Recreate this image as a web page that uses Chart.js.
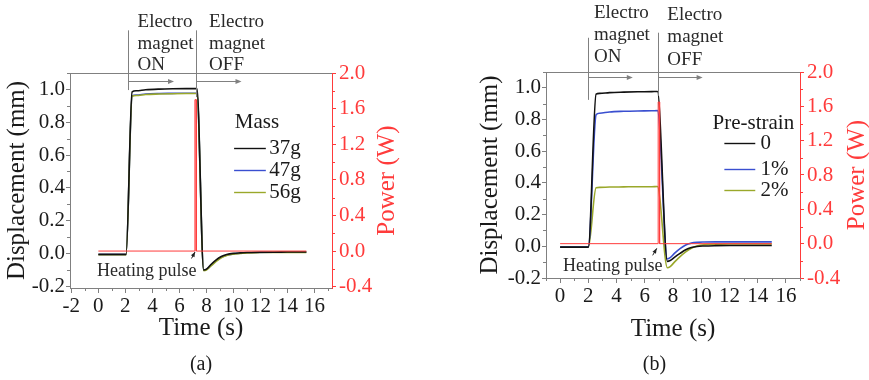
<!DOCTYPE html>
<html>
<head>
<meta charset="utf-8">
<script src="https://cdn.jsdelivr.net/npm/chart.js@4.4.0/dist/chart.umd.min.js"></script>
<style>
    body { margin: 0; background: #fff; }
    .panel { position: absolute; top: 0; height: 380px; }
</style>
</head>
<body>
<div class="panel" style="left:0;width:440px"><canvas id="chartA" width="440" height="380"></canvas></div>
<div class="panel" style="left:440px;width:429px"><canvas id="chartB" width="429" height="380"></canvas></div>
<script>
// (a) displacement vs time for three masses
var timeA = [0, 1, 2.05, 2.5, 2.8, 3.5, 4.5, 5.5, 6.5, 7.3, 7.8, 8.0, 8.3, 8.7, 9.1, 9.5, 10, 10.5, 11, 12, 13, 14, 15.4];
var mass37 = [-0.005, -0.005, -0.005, 0.985, 0.992, 0.998, 1.002, 1.004, 1.005, 1.005, -0.1, -0.095, -0.07, -0.04, -0.018, -0.006, 0.001, 0.004, 0.006, 0.008, 0.008, 0.009, 0.009];
var mass47 = [-0.006, -0.006, -0.006, 0.96, 0.966, 0.972, 0.975, 0.976, 0.977, 0.977, -0.102, -0.098, -0.076, -0.046, -0.023, -0.01, -0.002, 0.002, 0.005, 0.007, 0.008, 0.008, 0.008];
var mass56 = [-0.007, -0.007, -0.007, 0.958, 0.963, 0.969, 0.972, 0.974, 0.975, 0.975, -0.104, -0.1, -0.079, -0.05, -0.026, -0.012, -0.004, 0.0, 0.004, 0.006, 0.007, 0.007, 0.007];
var massLabels = ['37g', '47g', '56g'];

// heating pulse power for (a)
var powerTimeA = [0, 7.15, 7.15, 7.25, 7.25, 15.4];
var powerA = [0, 0, 1.7, 1.7, 0, 0];

// (b) displacement vs time for three pre-strains
var timeB = [0, 1, 2.0, 2.55, 2.8, 3.5, 4.5, 5.5, 6.5, 6.9, 7.6, 7.8, 8.1, 8.5, 8.9, 9.3, 9.7, 10.2, 11, 12, 13, 14, 15];
var strain0 = [-0.005, -0.005, -0.005, 0.96, 0.965, 0.97, 0.973, 0.975, 0.976, 0.977, -0.095, -0.09, -0.07, -0.045, -0.022, -0.008, -0.001, 0.002, 0.004, 0.005, 0.005, 0.005, 0.005];
var strain1 = [-0.004, -0.004, -0.004, 0.83, 0.84, 0.848, 0.852, 0.854, 0.855, 0.856, -0.08, -0.072, -0.045, -0.015, 0.008, 0.02, 0.025, 0.027, 0.028, 0.028, 0.028, 0.028, 0.028];
var strain2 = [-0.006, -0.006, -0.006, 0.37, 0.372, 0.374, 0.375, 0.376, 0.376, 0.377, -0.135, -0.128, -0.1, -0.065, -0.035, -0.012, 0.002, 0.01, 0.013, 0.015, 0.015, 0.015, 0.015];
var strainLabels = ['0', '1%', '2%'];

var powerTimeB = [0, 6.95, 6.95, 7.05, 7.05, 15];
var powerB = [0, 0, 1.65, 1.65, 0, 0];

// axis ticks
var timeTicksA = [-2, 0, 2, 4, 6, 8, 10, 12, 14, 16];
var timeTicksB = [0, 2, 4, 6, 8, 10, 12, 14, 16];
var dispTicks = [-0.2, 0, 0.2, 0.4, 0.6, 0.8, 1.0];
var powerTicks = [-0.4, 0, 0.4, 0.8, 1.2, 1.6, 2.0];

var serif = "'Liberation Serif', 'Times New Roman', serif";
var red = '#ff3b3b';
var axisGray = '#808080';
var ink = '#1a1a1a';
var lineColors = ['#111111', '#3a4fd0', '#9aa82a'];


function toPoints(xs, ys) {
    var pts = [];
    for (var i = 0; i < xs.length; i++) {
        pts.push({ x: xs[i], y: ys[i] });
    }
    return pts;
}

function arrowHead(ctx, x, y, angle, len, half) {
    ctx.beginPath();
    ctx.moveTo(x, y);
    ctx.lineTo(x - len * Math.cos(angle) - half * Math.sin(angle), y - len * Math.sin(angle) + half * Math.cos(angle));
    ctx.lineTo(x - len * Math.cos(angle) + half * Math.sin(angle), y - len * Math.sin(angle) - half * Math.cos(angle));
    ctx.closePath();
    ctx.fill();
}

// frame top, minor ticks, power title, magnet on/off marks, legend and pulse label
var panelDecor = {
    id: 'panelDecor',
    afterDraw: function (chart, args, opts) {
        var ctx = chart.ctx;
        var area = chart.chartArea;
        var xs = chart.scales.x, ys = chart.scales.y, y1 = chart.scales.y1;
        ctx.save();

        ctx.lineWidth = 1;
        ctx.strokeStyle = axisGray;
        ctx.beginPath();
        ctx.moveTo(area.left, area.top + 0.5);
        ctx.lineTo(area.right, area.top + 0.5);
        ctx.stroke();

        // minor ticks halfway between the major ones
        function minor(scale, step, color, draw) {
            ctx.strokeStyle = color;
            var start = Math.ceil(scale.min / step - 1e-6) * step;
            for (var v = start; v <= scale.max + 1e-6; v += step) {
                var isMajor = scale.ticks.some(function (t) { return Math.abs(t.value - v) < 1e-6; });
                if (isMajor) continue;
                var p = Math.round(scale.getPixelForValue(v)) + 0.5;
                ctx.beginPath();
                draw(p);
                ctx.stroke();
            }
        }
        minor(xs, 1, axisGray, function (p) { ctx.moveTo(p, area.bottom); ctx.lineTo(p, area.bottom + 3); });
        minor(ys, 0.1, axisGray, function (p) { ctx.moveTo(area.left - 3, p); ctx.lineTo(area.left, p); });
        minor(y1, 0.2, red, function (p) { ctx.moveTo(area.right, p); ctx.lineTo(area.right + 3, p); });

        // right axis title, reading bottom to top like the left one
        ctx.save();
        ctx.translate(y1.right - opts.powerTitleOffset, (area.top + area.bottom) / 2);
        ctx.rotate(-Math.PI / 2);
        ctx.font = '25px ' + serif;
        ctx.fillStyle = red;
        ctx.textAlign = 'center';
        ctx.textBaseline = 'middle';
        ctx.fillText('Power (W)', 0, 0);
        ctx.restore();

        // electromagnet switching marks
        ctx.font = '19px ' + serif;
        ctx.textBaseline = 'middle';
        ctx.textAlign = 'left';
        opts.switches.forEach(function (s) {
            var px = Math.round(xs.getPixelForValue(s.at)) + 0.5;
            ctx.strokeStyle = axisGray;
            ctx.fillStyle = axisGray;
            ctx.beginPath();
            ctx.moveTo(px, ys.getPixelForValue(s.lineTop));
            ctx.lineTo(px, ys.getPixelForValue(s.lineBottom));
            ctx.stroke();
            var ay = Math.round(ys.getPixelForValue(s.arrowY)) + 0.5;
            var ax2 = xs.getPixelForValue(s.arrowTo);
            ctx.beginPath();
            ctx.moveTo(px, ay);
            ctx.lineTo(ax2 - 4, ay);
            ctx.stroke();
            arrowHead(ctx, ax2, ay, 0, 6, 2.5);
            ctx.fillStyle = '#2a2a2a';
            var tx = xs.getPixelForValue(s.textX);
            for (var i = 0; i < s.text.length; i++) {
                ctx.fillText(s.text[i], tx, ys.getPixelForValue(s.textY) + i * s.lineGap);
            }
        });

        // legend built from the displacement datasets
        var lg = opts.legend;
        ctx.fillStyle = ink;
        ctx.font = '21px ' + serif;
        ctx.fillText(lg.title, xs.getPixelForValue(lg.titleX), ys.getPixelForValue(lg.titleY));
        var sets = chart.data.datasets.filter(function (d) { return d.yAxisID === 'y'; });
        sets.forEach(function (d, i) {
            var ry = Math.round(ys.getPixelForValue(lg.rows[i])) + 0.5;
            ctx.strokeStyle = d.borderColor;
            ctx.lineWidth = 1.4;
            ctx.beginPath();
            ctx.moveTo(xs.getPixelForValue(lg.lineFrom), ry);
            ctx.lineTo(xs.getPixelForValue(lg.lineTo), ry);
            ctx.stroke();
            ctx.fillStyle = ink;
            ctx.fillText(d.label, xs.getPixelForValue(lg.textX), ry);
        });

        // heating pulse label with its pointer
        var hp = opts.pulse;
        ctx.font = '18px ' + serif;
        ctx.fillStyle = '#2a2a2a';
        ctx.fillText('Heating pulse', xs.getPixelForValue(hp.textX), ys.getPixelForValue(hp.textY));
        var x0 = xs.getPixelForValue(hp.fromX), y0 = ys.getPixelForValue(hp.fromY);
        var x1 = xs.getPixelForValue(hp.toX), y1p = ys.getPixelForValue(hp.toY);
        ctx.strokeStyle = '#222';
        ctx.fillStyle = '#222';
        ctx.lineWidth = 1;
        ctx.beginPath();
        ctx.moveTo(x0, y0);
        ctx.lineTo(x1, y1p);
        ctx.stroke();
        arrowHead(ctx, x1, y1p, Math.atan2(y1p - y0, x1 - x0), 5, 2);

        ctx.restore();
    }
};


function makePanel(id, p) {
    var datasets = [];
    for (var i = 0; i < p.series.length; i++) {
        datasets.push({
            label: p.labels[i],
            data: toPoints(p.time, p.series[i]),
            borderColor: lineColors[i],
            borderWidth: 1.6,
            pointRadius: 0,
            cubicInterpolationMode: 'monotone',
            yAxisID: 'y',
            order: p.drawOrder[i]
        });
    }
    datasets.push({
        label: 'Power',
        data: toPoints(p.powerTime, p.power),
        borderColor: red,
        borderWidth: 1,
        pointRadius: 0,
        tension: 0,
        yAxisID: 'y1',
        order: 0
    });

    return new Chart(id, {
        type: 'line',
        data: { datasets: datasets },
        plugins: [panelDecor],
        options: {
            responsive: false,
            devicePixelRatio: 1,
            animation: false,
            layout: { padding: { top: p.padTop, left: 0, right: p.padRight, bottom: 0 } },
            plugins: {
                legend: { display: false },
                tooltip: { enabled: false },
                title: {
                    display: true,
                    position: 'bottom',
                    text: p.caption,
                    color: ink,
                    font: { family: serif, size: 20, weight: 'normal', lineHeight: 1 },
                    padding: { top: 0, bottom: 5 }
                },
                panelDecor: p.decor
            },
            scales: {
                x: {
                    type: 'linear',
                    min: p.xMin,
                    max: p.xMax,
                    afterBuildTicks: function (axis) {
                        axis.ticks = p.xTicks.map(function (v) { return { value: v }; });
                    },
                    afterFit: function (axis) { axis.height = p.xHeight; },
                    grid: { drawOnChartArea: false, tickLength: 5, color: axisGray },
                    border: { color: axisGray, width: 1 },
                    ticks: {
                        color: ink,
                        padding: 1,
                        maxRotation: 0,
                        autoSkip: false,
                        font: { family: serif, size: 21 },
                        callback: function (v) { return String(v); }
                    },
                    title: {
                        display: true,
                        text: 'Time (s)',
                        color: ink,
                        font: { family: serif, size: 25, lineHeight: 1 },
                        padding: { top: 0, bottom: p.xTitlePad }
                    }
                },
                y: {
                    type: 'linear',
                    position: 'left',
                    min: p.yMin,
                    max: p.yMax,
                    afterBuildTicks: function (axis) {
                        axis.ticks = dispTicks.map(function (v) { return { value: v }; });
                    },
                    afterFit: function (axis) { axis.width = p.yWidth; },
                    grid: { drawOnChartArea: false, tickLength: 4, color: axisGray },
                    border: { color: axisGray, width: 1 },
                    ticks: {
                        color: ink,
                        padding: 1,
                        font: { family: serif, size: 21 },
                        callback: function (v) { return v.toFixed(1); }
                    },
                    title: {
                        display: true,
                        text: 'Displacement (mm)',
                        color: ink,
                        font: { family: serif, size: 25, lineHeight: 1 },
                        padding: { top: p.yTitlePad, bottom: 0 }
                    }
                },
                y1: {
                    type: 'linear',
                    position: 'right',
                    min: p.pMin,
                    max: p.pMax,
                    afterBuildTicks: function (axis) {
                        axis.ticks = powerTicks.map(function (v) { return { value: v }; });
                    },
                    afterFit: function (axis) { axis.width = p.y1Width; },
                    grid: { drawOnChartArea: false, tickLength: 4, color: red },
                    border: { color: red, width: 1 },
                    ticks: {
                        color: red,
                        padding: 3,
                        font: { family: serif, size: 21 },
                        callback: function (v) { return v.toFixed(1); }
                    }
                }
            }
        }
    });
}


makePanel('chartA', {
    time: timeA,
    series: [mass37, mass47, mass56],
    labels: massLabels,
    drawOrder: [1, 3, 2],
    powerTime: powerTimeA,
    power: powerA,
    caption: '(a)',
    xMin: -2.1, xMax: 17.3, xTicks: timeTicksA,
    yMin: -0.21, yMax: 1.1,
    pMin: -0.415, pMax: 2.0,
    padTop: 73, padRight: 38,
    xHeight: 67, xTitlePad: 14,
    yWidth: 70, yTitlePad: 5,
    y1Width: 70,
    decor: {
        powerTitleOffset: 15,
        switches: [
            { at: 2.2, lineTop: 1.36, lineBottom: 0.996, arrowY: 1.05, arrowTo: 5.6, textX: 2.9, textY: 1.41, lineGap: 21.5, text: ['Electro', 'magnet', 'ON'] },
            { at: 7.2, lineTop: 1.36, lineBottom: 0.953, arrowY: 1.05, arrowTo: 10.6, textX: 8.2, textY: 1.41, lineGap: 21.5, text: ['Electro', 'magnet', 'OFF'] }
        ],
        legend: { title: 'Mass', titleX: 10.1, titleY: 0.8, lineFrom: 10.05, lineTo: 12.4, textX: 12.66, rows: [0.642, 0.508, 0.374] },
        pulse: { textX: -0.1, textY: -0.11, fromX: 6.9, fromY: -0.03, toX: 7.16, toY: 0.01 }
    }
});

makePanel('chartB', {
    time: timeB,
    series: [strain0, strain1, strain2],
    labels: strainLabels,
    drawOrder: [1, 2, 3],
    powerTime: powerTimeB,
    power: powerB,
    caption: '(b)',
    xMin: -1, xMax: 17, xTicks: timeTicksB,
    yMin: -0.2, yMax: 1.1,
    pMin: -0.4, pMax: 2.0,
    padTop: 72, padRight: 0,
    xHeight: 77, xTitlePad: 13,
    yWidth: 106, yTitlePad: 38,
    y1Width: 69,
    decor: {
        powerTitleOffset: 12,
        switches: [
            { at: 2.0, lineTop: 1.316, lineBottom: 0.924, arrowY: 1.07, arrowTo: 5.15, textX: 2.4, textY: 1.475, lineGap: 22, text: ['Electro', 'magnet', 'ON'] },
            { at: 6.92, lineTop: 1.348, lineBottom: 0.95, arrowY: 1.07, arrowTo: 10.1, textX: 7.6, textY: 1.462, lineGap: 22.5, text: ['Electro', 'magnet', 'OFF'] }
        ],
        legend: { title: 'Pre-strain', titleX: 10.8, titleY: 0.778, lineFrom: 11.64, lineTo: 13.83, textX: 14.2, rows: [0.65, 0.49, 0.354] },
        pulse: { textX: 0.2, textY: -0.127, fromX: 6.56, fromY: -0.057, toX: 6.85, toY: -0.013 }
    }
});
</script>
</body>
</html>
